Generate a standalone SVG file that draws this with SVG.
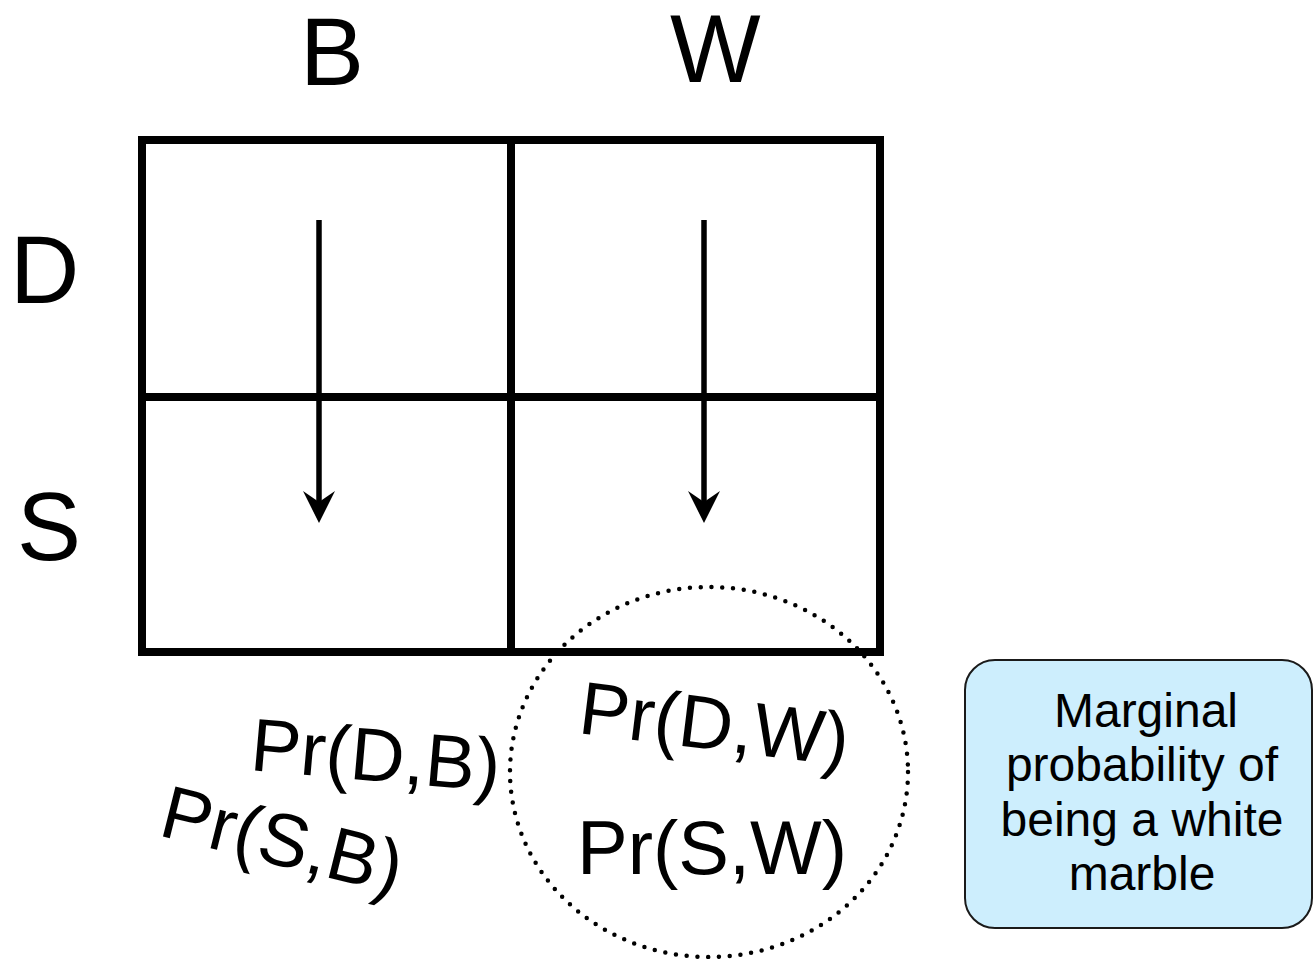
<svg xmlns="http://www.w3.org/2000/svg" width="1315" height="959" viewBox="0 0 1315 959">
  <style>
    .lbl { font-family: "Liberation Sans", Arial, sans-serif; fill: #000; }
    .big { font-size: 96px; }
    .cell { fill: none; stroke: #000; stroke-width: 8; }
    .flow { stroke: #000; stroke-width: 5.5; fill: none; }
    .note { fill: #cdeefd; stroke: #1a1a1a; stroke-width: 2; }
    .notetxt { font-size: 48px; text-anchor: middle; }
    .marg { fill: none; stroke: #000; stroke-width: 4.5; stroke-linecap: round; stroke-dasharray: 0 10.8; }
  </style>
  <defs>
    <!-- arrowhead drawn along +x so orient="auto" turns it with the line -->
    <marker id="head" viewBox="0 0 34 34" refX="20" refY="17" markerWidth="34" markerHeight="34" markerUnits="userSpaceOnUse" orient="auto">
      <path d="M33 17 L1 1 L12 17 L1 33 Z" fill="#000"/>
    </marker>
  </defs>
  <rect width="1315" height="959" fill="#fff"/>

  <!-- column and row headings -->
  <g id="heading-B"><text class="lbl big" x="300" y="85">B</text></g>
  <g id="heading-W"><text class="lbl big" x="670" y="82" font-size="90">W</text></g>
  <g id="heading-D"><text class="lbl big" x="10" y="303">D</text></g>
  <g id="heading-S"><text class="lbl big" x="17" y="560">S</text></g>

  <!-- 2x2 table -->
  <g id="table">
    <rect class="cell" x="142" y="140" width="738" height="512"/>
    <line class="cell" x1="511" y1="140" x2="511" y2="652"/>
    <line class="cell" x1="142" y1="397" x2="880" y2="397"/>
  </g>

  <!-- downward arrows through each column -->
  <g id="connectors">
    <path class="flow" d="M319 220 V510" marker-end="url(#head)"/>
    <path class="flow" d="M704 220 V510" marker-end="url(#head)"/>
  </g>

  <!-- joint probabilities for the B column -->
  <g id="joint-B">
    <text class="lbl" font-size="75" transform="translate(249 770) rotate(5)">Pr(D,B)</text>
    <text class="lbl" font-size="75" transform="translate(157 835) rotate(14)">Pr(S,B)</text>
  </g>

  <!-- dotted marginal grouping for the W column -->
  <g id="marginal-W">
    <ellipse class="marg" cx="709" cy="772" rx="199" ry="185"/>
    <text class="lbl" font-size="75" transform="translate(577 733) rotate(7)">Pr(D,W)</text>
    <text class="lbl" font-size="76" x="577" y="874">Pr(S,W)</text>
  </g>

  <!-- explanatory note -->
  <g id="note">
    <rect class="note" x="965" y="660" width="347" height="268" rx="30" ry="30"/>
    <text class="lbl notetxt" x="1146" y="727" font-size="46">Marginal</text>
    <text class="lbl notetxt" x="1142" y="781">probability of</text>
    <text class="lbl notetxt" x="1142" y="836">being a white</text>
    <text class="lbl notetxt" x="1142" y="890">marble</text>
  </g>
</svg>
